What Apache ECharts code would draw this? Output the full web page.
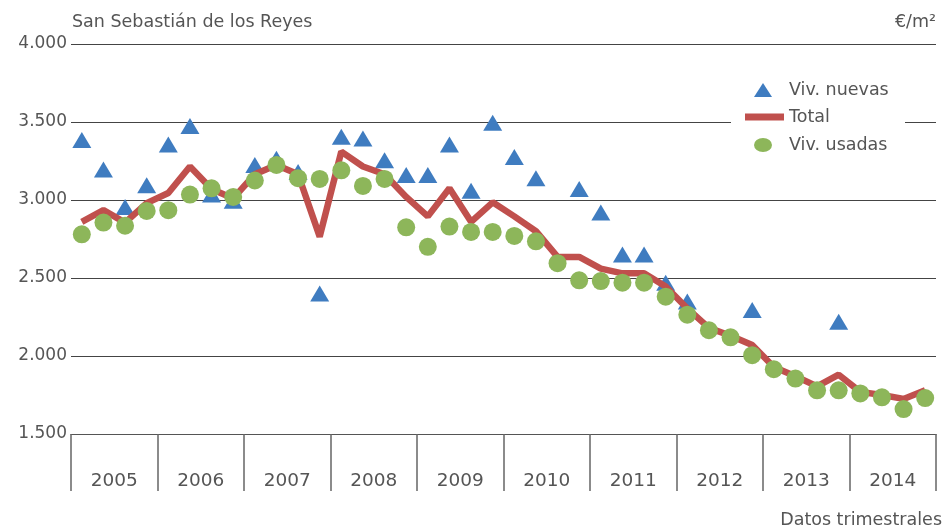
<!DOCTYPE html>
<html>
<head>
<meta charset="utf-8">
<script src="https://cdn.jsdelivr.net/npm/echarts@6/dist/echarts.min.js"></script>
<style>
  html, body { margin: 0; padding: 0; background: #fff; }
  #chart { width: 944px; height: 532px; }
</style>
</head>
<body>
<div id="chart"></div>
<script>
// Precio medio de la vivienda (€/m²), San Sebastián de los Reyes, datos trimestrales 2005-2014
const years = ['2005', '2006', '2007', '2008', '2009', '2010', '2011', '2012', '2013', '2014'];
const quarterNames = ['T1', 'T2', 'T3', 'T4'];

// Vivienda nueva (sin dato en algunos trimestres)
const vivNuevas = [
  3385, 3195, 2955, 3095,
  3355, 3475, 3035, 2995,
  3225, 3265, 3180, 2400,
  3405, 3395, 3255, 3160,
  3160, 3355, 3060, 3495,
  3275, 3140, null, 3070,
  2920, 2650, 2650, 2470,
  2350, null, null, 2295,
  null, null, null, 2220,
  null, null, null, null
];

// Total
const total = [
  2860, 2935, 2855, 2980,
  3045, 3215, 3070, 3010,
  3165, 3225, 3165, 2765,
  3310, 3215, 3165, 3020,
  2895, 3075, 2860, 2985,
  2895, 2800, 2635, 2635,
  2560, 2530, 2530, 2445,
  2305, 2180, 2130, 2070,
  1930, 1870, 1805, 1880,
  1770, 1750, 1725, 1780
];

// Vivienda usada
const vivUsadas = [
  2780, 2855, 2835, 2930,
  2935, 3035, 3075, 3020,
  3125, 3225, 3140, 3135,
  3190, 3090, 3135, 2825,
  2700, 2830, 2795, 2795,
  2770, 2735, 2595, 2485,
  2480, 2470, 2470, 2380,
  2265, 2165, 2120, 2005,
  1915, 1855, 1780, 1780,
  1760, 1735, 1660, 1730
];

const quarters = [];
years.forEach(y => quarterNames.forEach(q => quarters.push(y + ' ' + q)));

const FONT = 'DejaVu Sans';
const TEXT = '#555555';
const BLUE = '#3f7cc0';
const RED = '#c0504d';
const GREEN = '#8db65a';

// Elliptical legend marker (stretched to the legend item box)
const ELLIPSE = 'path://M0,7A9,7 0 1,0 18,7A9,7 0 1,0 0,7Z';

const chart = echarts.init(document.getElementById('chart'), null, { renderer: 'canvas' });

chart.setOption({
  animation: false,
  backgroundColor: '#ffffff',
  textStyle: { fontFamily: FONT },
  title: [
    {
      text: 'San Sebastián de los Reyes',
      left: 72, top: 13, padding: 0,
      textStyle: { fontFamily: FONT, fontSize: 17.5, fontWeight: 'normal', color: TEXT }
    },
    {
      text: '€/m²',
      right: 8, top: 13, padding: 0,
      textStyle: { fontFamily: FONT, fontSize: 17.5, fontWeight: 'normal', color: TEXT }
    },
    {
      text: 'Datos trimestrales',
      right: 2, top: 511, padding: 0,
      textStyle: { fontFamily: FONT, fontSize: 17.5, fontWeight: 'normal', color: TEXT }
    }
  ],
  grid: { left: 71, right: 8, top: 44, bottom: 98, containLabel: false },
  legend: [
    {
      data: [{ name: 'Viv. nuevas', icon: 'triangle' }],
      left: 754, top: 81, padding: 0,
      itemWidth: 18, itemHeight: 14,
      textStyle: { fontFamily: FONT, fontSize: 17.5, color: TEXT, padding: [0, 0, 0, 12] }
    },
    {
      data: [{ name: 'Total', icon: 'rect' }],
      left: 745, top: 108, padding: 0,
      itemWidth: 39, itemHeight: 7,
      textStyle: { fontFamily: FONT, fontSize: 17.5, color: TEXT }
    },
    {
      data: [{ name: 'Viv. usadas', icon: ELLIPSE }],
      left: 754, top: 136, padding: 0,
      itemWidth: 18, itemHeight: 14,
      textStyle: { fontFamily: FONT, fontSize: 17.5, color: TEXT, padding: [0, 0, 0, 12] }
    }
  ],
  graphic: [
    {
      type: 'rect', z: 3, silent: true,
      shape: { x: 731, y: 114, width: 174, height: 14 },
      style: { fill: '#ffffff' }
    }
  ],
  xAxis: [
    {
      type: 'category',
      data: quarters,
      boundaryGap: true,
      show: false
    },
    {
      type: 'category',
      data: years,
      position: 'bottom',
      boundaryGap: true,
      axisLine: { show: true, lineStyle: { color: '#555', width: 1.2 } },
      axisTick: { show: true, interval: 0, length: 57, lineStyle: { color: '#666', width: 1.5 } },
      axisLabel: { interval: 0, margin: 38, fontFamily: FONT, fontSize: 18.5, color: TEXT },
      splitLine: { show: false }
    }
  ],
  yAxis: {
    type: 'value',
    min: 1500, max: 4000, interval: 500,
    axisLine: { show: false },
    axisTick: { show: false },
    axisLabel: {
      margin: 4,
      fontFamily: FONT, fontSize: 17, color: TEXT,
      padding: [4, 0, 0, 0],
      formatter: v => String(v).replace(/\B(?=(\d{3})+(?!\d))/g, '.')
    },
    splitLine: { show: true, lineStyle: { color: '#444', width: 1.2 } }
  },
  series: [
    {
      name: 'Viv. nuevas',
      type: 'scatter',
      xAxisIndex: 0,
      data: vivNuevas,
      symbol: 'triangle',
      symbolSize: [19, 16],
      itemStyle: { color: BLUE, opacity: 1 },
      z: 2
    },
    {
      name: 'Total',
      type: 'line',
      xAxisIndex: 0,
      data: total,
      showSymbol: false,
      symbol: 'none',
      lineStyle: { color: RED, width: 6.5 },
      itemStyle: { color: RED },
      z: 3
    },
    {
      name: 'Viv. usadas',
      type: 'scatter',
      xAxisIndex: 0,
      data: vivUsadas,
      symbol: 'circle',
      symbolSize: 18,
      itemStyle: { color: GREEN, opacity: 1 },
      z: 4
    }
  ]
});
</script>
</body>
</html>
